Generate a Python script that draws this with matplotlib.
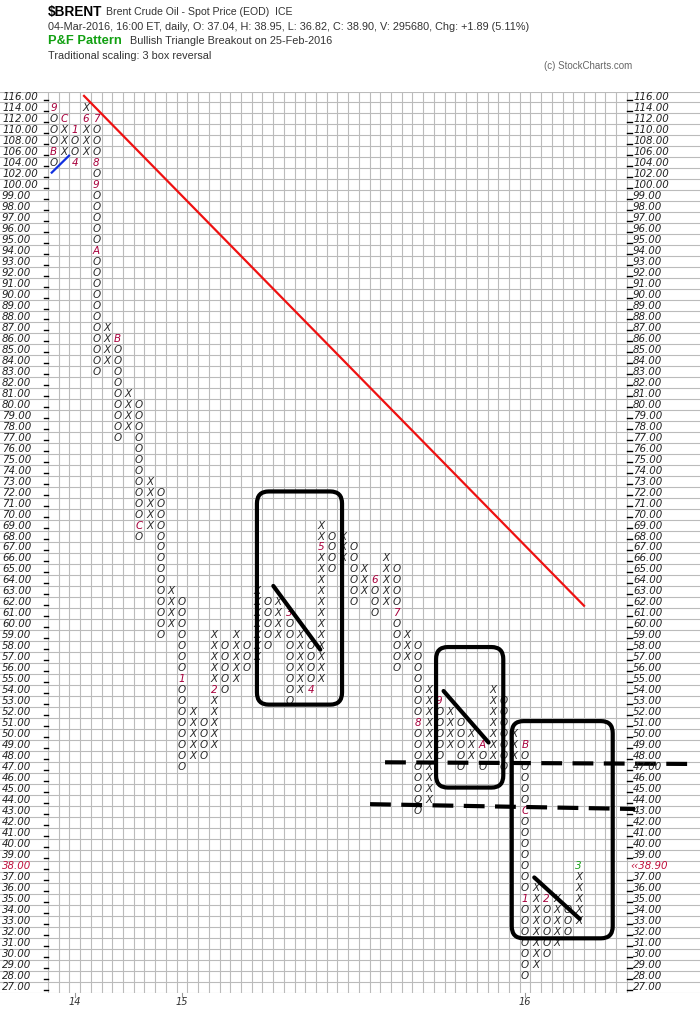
import matplotlib
matplotlib.use("Agg")
import matplotlib.pyplot as plt
import numpy as np
from matplotlib.patches import FancyBboxPatch

# escala de caixas: 2 pontos acima de 100, 1 ponto abaixo
box_levels = list(range(116, 99, -2)) + list(range(99, 26, -1))

# colunas P&F (tipo, topo, base)
col_types = ["O", "X"] * 25
col_tops = [114, 112, 110, 114, 112, 87, 86, 81, 80, 73,
            72, 63, 62, 52, 51, 59, 58, 59, 58, 63,
            62, 62, 61, 59, 58, 69, 68, 68, 67, 65,
            64, 66, 65, 59, 58, 54, 53, 52, 51, 50,
            49, 54, 53, 50, 49, 36, 35, 35, 34, 38]
col_bottoms = [104, 106, 104, 106, 83, 84, 77, 78, 68, 69,
               59, 60, 47, 48, 48, 49, 54, 55, 56, 57,
               58, 59, 53, 54, 54, 55, 65, 66, 62, 63,
               61, 62, 56, 57, 43, 44, 48, 49, 47, 48,
               47, 48, 47, 48, 28, 29, 30, 31, 32, 33]

# marcadores de mes (coluna, preco, rotulo)
month_cols = [0, 0, 1, 2, 2, 3, 4, 4, 4, 4, 6, 8, 12, 15, 22, 24, 25, 30,
              32, 34, 36, 40, 44, 44, 44, 46, 49]
month_prices = [114, 106, 112, 110, 104, 112, 112, 104, 100, 94, 86, 69, 55,
                54, 61, 54, 67, 64, 61, 51, 53, 49, 49, 43, 35, 35, 38]
month_labels = ["9", "B", "C", "1", "4", "6", "7", "8", "9", "A", "B", "C",
                "1", "2", "3", "4", "5", "6", "7", "8", "9", "A", "B", "C",
                "1", "2", "3"]

year_cols = [2, 12, 44]
year_labels = ["14", "15", "16"]

last_price = 38.90
last_box = 38

# anotacoes (coluna, linha)
red_trend = [(2.86, -0.1), (49.5, 46.3)]
blue_trend = [(-0.15, 6.88), (1.46, 5.34)]
black_lines = [[(20.52, 44.5), (24.9, 50.3)],
               [(36.4, 54.06), (40.6, 58.75)],
               [(44.86, 71.03), (49.1, 74.8)]]
boxes = [(18.99, 35.9, 26.93, 55.3),
         (35.7, 50.06, 41.97, 62.85),
         (42.76, 56.8, 52.18, 76.57)]
dashed_lines = [[(30.94, 60.55), (59.6, 60.7)],
                [(29.54, 64.36), (54.26, 64.8)]]

CW = 10.72  # largura da coluna em px
N_COLS = 54
MONTH_COLOR = "#a8003c"


def px_col(x):
    return (x - 48) / CW - 0.5


row_of = {p: i for i, p in enumerate(box_levels)}

fig = plt.figure(figsize=(7, 10.25), dpi=100)
ax = fig.add_axes([0, 1 - 992.5 / 1025, 1, 901 / 1025])
ax.set_xlim(px_col(0), px_col(700))
ax.set_ylim(len(box_levels) - 0.5, -0.5)
ax.axis("off")

# grade
for r in range(len(box_levels) + 1):
    ax.axhline(r - 0.5, color="#bbbbbb", lw=0.8, zorder=1)
ax.vlines(np.arange(N_COLS + 1) - 0.5, -0.5, len(box_levels) - 0.5,
          color="#bbbbbb", lw=0.8, zorder=1)

# rotulos de preco
for i, p in enumerate(box_levels):
    lab = f"{p:.2f}"
    c_left = "#c0103c" if p == last_box else "#222222"
    ax.text(px_col(2), i, lab, ha="left", va="center", fontsize=7.4,
            fontstyle="italic", color=c_left, zorder=4)
    ax.plot([px_col(44), px_col(48)], [i + 0.25, i + 0.25], color="black",
            lw=1.0, zorder=4)
    if p == last_box:
        ax.text(px_col(630), i, f"\u2039\u2039{last_price:.2f}", ha="left",
                va="center", fontsize=7.4, fontstyle="italic", color="#c0103c",
                zorder=4)
    else:
        ax.plot([px_col(627), px_col(632)], [i + 0.25, i + 0.25],
                color="black", lw=1.0, zorder=4)
        ax.text(px_col(633), i, lab, ha="left", va="center", fontsize=7.4,
                fontstyle="italic", color="#222222", zorder=4)

# colunas X / O
marks = {(c, p): (l, "#1a9e1a" if l == "3" and c == 49 else MONTH_COLOR)
         for c, p, l in zip(month_cols, month_prices, month_labels)}
for c, (t, top, bot) in enumerate(zip(col_types, col_tops, col_bottoms)):
    for p in box_levels:
        if bot <= p <= top:
            lab, col = marks.get((c, p), (t, "#2a2a2a"))
            ax.text(c, row_of[p], lab, ha="center", va="center",
                    fontsize=7.5, fontstyle="italic", color=col, zorder=2)

# anos
for c, lab in zip(year_cols, year_labels):
    ax.plot([c, c], [81.5, 81.95], color="#999999", lw=0.8, clip_on=False)
    ax.text(c, 82.4, lab, ha="center", va="center", fontsize=7,
            fontstyle="italic", color="#333333", clip_on=False)

# linhas de tendencia
(xa, ya), (xb, yb) = red_trend
ax.plot([xa, xb], [ya, yb], color="#ee1111", lw=1.6, zorder=3)
(xa, ya), (xb, yb) = blue_trend
ax.plot([xa, xb], [ya, yb], color="#1030e0", lw=1.6, zorder=3)
for (xa, ya), (xb, yb) in black_lines:
    ax.plot([xa, xb], [ya, yb], color="black", lw=3, zorder=3,
            solid_capstyle="round")
for (xa, ya), (xb, yb) in dashed_lines:
    ax.plot([xa, xb], [ya, yb], color="black", lw=3, zorder=3,
            dashes=(5, 2.5))
for x_a, y_a, x_b, y_b in boxes:
    ax.add_patch(FancyBboxPatch((x_a, y_a), x_b - x_a, y_b - y_a,
                                boxstyle="round,pad=0,rounding_size=1.1",
                                fill=False, ec="black", lw=3, zorder=3))

# cabecalho
hdr = dict(family="Liberation Sans", color="#333333", va="center")
fig.text(48 / 700, 1 - 12 / 1025, "$BRENT", fontsize=9.8, weight="bold",
         **{**hdr, "color": "black"})
fig.text(106 / 700, 1 - 12 / 1025, "Brent Crude Oil - Spot Price (EOD)  ICE",
         fontsize=7.6, **hdr)
fig.text(48 / 700, 1 - 27 / 1025,
         "04-Mar-2016, 16:00 ET, daily, O: 37.04, H: 38.95, L: 36.82, "
         "C: 38.90, V: 295680, Chg: +1.89 (5.11%)", fontsize=7.8, **hdr)
fig.text(48 / 700, 1 - 41 / 1025, "P&F Pattern", fontsize=9.3, weight="bold",
         **{**hdr, "color": "#11a011"})
fig.text(130 / 700, 1 - 41 / 1025, "Bullish Triangle Breakout on 25-Feb-2016",
         fontsize=7.8, **hdr)
fig.text(48 / 700, 1 - 56 / 1025, "Traditional scaling: 3 box reversal",
         fontsize=7.8, **hdr)
fig.text(632 / 700, 1 - 66 / 1025, "(c) StockCharts.com", fontsize=7,
         ha="right", family="Liberation Sans", color="#666666", va="center")

fig.savefig("out.png", dpi=100)
